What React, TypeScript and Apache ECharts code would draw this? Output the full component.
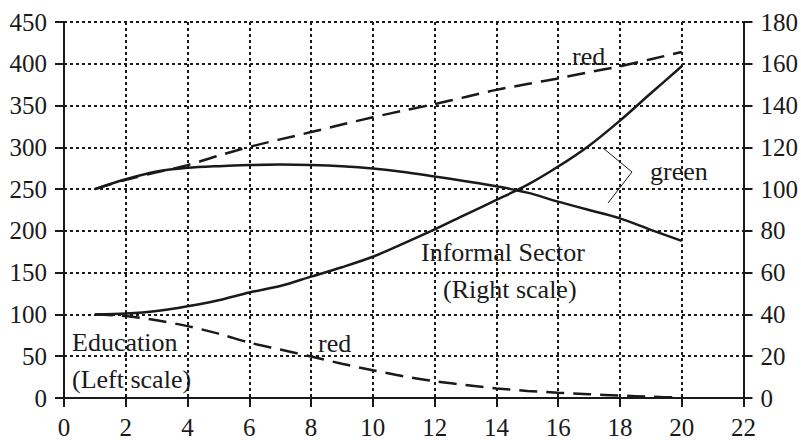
import React, { useEffect, useRef } from "react";
import * as echarts from "echarts";

const xValues = [1, 2, 3, 4, 5, 6, 7, 8, 9, 10, 11, 12, 13, 14, 15, 16, 17, 18, 19, 20];
// Education (left scale)
const educationGreen = [100, 101, 104, 109.8, 117, 126.3, 134, 145.3, 156.5, 169, 185, 201.7, 219.5, 237, 255, 277, 302, 332, 364.7, 397];
const educationRed = [100, 98, 93, 86, 77, 66.3, 58, 49.7, 41, 33.2, 26, 20, 15.5, 11.5, 8.5, 6.3, 4.5, 3, 1.5, 0.5];
// Informal sector (right scale)
const informalGreen = [100, 104.7, 108.4, 110.2, 111, 111.5, 111.8, 111.6, 111, 109.9, 108.2, 106, 103.8, 101.4, 98.3, 94, 90, 86, 80.5, 75.2];
const informalRed = [100, 104.5, 108, 111.5, 116, 120.2, 123.8, 127.3, 130.9, 134.4, 137.6, 140.7, 144.1, 147.5, 150.3, 153, 156, 158.8, 162.2, 165.6];

const xTicks = { min: 0, max: 22, interval: 2 };
const leftTicks = { min: 0, max: 450, interval: 50 };
const rightTicks = { min: 0, max: 180, interval: 20 };

const INK = "#1a1a1a";
const FONT = '"Liberation Serif", "Times New Roman", serif';

export default function App() {
  const ref = useRef<HTMLDivElement>(null);
  useEffect(() => {
    document.body.style.margin = "0";
    const chart = echarts.init(ref.current!, undefined, { renderer: "svg" });
    const axisCommon = {
      axisLine: { show: true, lineStyle: { color: INK, width: 2 } },
      axisTick: { show: true, length: 9, lineStyle: { color: INK, width: 2 } },
      axisLabel: { color: INK, fontFamily: FONT, fontSize: 25, margin: 17 },
    };
    const split = { show: true, lineStyle: { color: INK, width: 2, type: [3, 3] as any } };
    const mk = (data: number[], axis: number, dashed: boolean) => ({
      type: "line",
      yAxisIndex: axis,
      data: xValues.map((x, i) => [x, data[i]]),
      smooth: 0.3,
      symbol: "none",
      lineStyle: { color: INK, width: 2.5, type: dashed ? ([18, 9] as any) : "solid" },
      z: 5,
    });
    const txt = (text: string, x: number, y: number) => ({
      type: "text",
      x,
      y,
      z: 10,
      style: { text, fill: INK, font: `26px ${FONT}`, textAlign: "left", textVerticalAlign: "middle" },
    });
    chart.setOption({
      animation: false,
      backgroundColor: "#fff",
      textStyle: { fontFamily: FONT },
      grid: { left: 64, right: 56, top: 22, bottom: 38, containLabel: false },
      xAxis: {
        type: "value",
        ...xTicks,
        ...axisCommon,
        axisLine: { show: true, onZero: false, lineStyle: { color: INK, width: 2 } },
        splitLine: split,
      },
      yAxis: [
        { type: "value", position: "left", ...leftTicks, ...axisCommon, splitLine: split },
        { type: "value", position: "right", ...rightTicks, ...axisCommon, splitLine: { show: false } },
      ],
      series: [
        mk(educationGreen, 0, false),
        mk(educationRed, 0, true),
        mk(informalGreen, 1, false),
        mk(informalRed, 1, true),
      ],
      graphic: [
        txt("red", 572, 56),
        txt("green", 650, 171),
        txt("Informal Sector", 421, 252),
        txt("(Right scale)", 443, 289),
        txt("Education", 72, 342),
        txt("(Left scale)", 72, 379),
        txt("red", 318, 343),
        {
          type: "polyline",
          z: 10,
          shape: { points: [[603, 148], [632, 172], [608, 203]] },
          style: { stroke: INK, lineWidth: 1, fill: "none" },
        },
      ],
    });
    return () => chart.dispose();
  }, []);
  return <div ref={ref} style={{ width: 801, height: 440 }} />;
}
